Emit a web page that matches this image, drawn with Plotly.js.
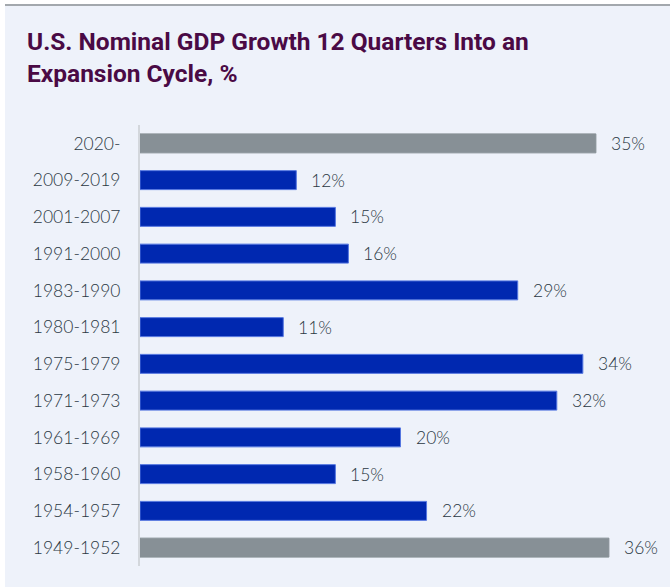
<!DOCTYPE html>
<html>
<head>
<meta charset="utf-8">
<script src="https://cdn.plot.ly/plotly-3.0.1.min.js"></script>
<style>
html,body{margin:0;padding:0;background:#ffffff;width:670px;height:587px;overflow:hidden;}
#card{position:absolute;left:5px;top:4px;width:665px;height:583px;border-top:2px solid #a3a8ad;box-sizing:border-box;background:#eef2fa;}
#chart{width:665px;height:581px;}
</style>
</head>
<body>
<div id="card"><div id="chart"></div></div>
<script>
const periods = ["2020-","2009-2019","2001-2007","1991-2000","1983-1990","1980-1981","1975-1979","1971-1973","1961-1969","1958-1960","1954-1957","1949-1952"];
const growth = [35,12,15,16,29,11,34,32,20,15,22,36];
const labels = ["35%","12%","15%","16%","29%","11%","34%","32%","20%","15%","22%","36%"];
const highlight = [true,false,false,false,false,false,false,false,false,false,false,true];

const BLUE = "#0028b0", GRAY = "#879096";
const colors = highlight.map(h => h ? GRAY : BLUE);
const edges = highlight.map(h => h ? GRAY : "#5577e0");
const LABEL_FONT = {family: "Lato, 'Open Sans', sans-serif", size: 17.5, weight: 300, color: "#2a3742"};

const trace = {
  type: "bar",
  orientation: "h",
  y: periods,
  x: growth,
  marker: {color: colors, line: {color: edges, width: 1}},
  hoverinfo: "none"
};

const annotations = periods.map((p, i) => ({
  x: growth[i], y: p, xref: "x", yref: "y",
  text: labels[i], showarrow: false, xanchor: "left", xshift: 13,
  font: LABEL_FONT
}));

const layout = {
  width: 665, height: 581,
  paper_bgcolor: "#eef2fa", plot_bgcolor: "#eef2fa",
  margin: {l: 135, r: 9, t: 119, b: 21},
  bargap: 0.484,
  showlegend: false,
  title: {
    text: "<b>U.S. Nominal GDP Growth 12 Quarters Into an<br>Expansion Cycle, %</b>",
    x: 22/665, xref: "container", xanchor: "left",
    y: 1 - 44/581, yref: "container", yanchor: "top",
    font: {family: "Roboto, sans-serif", size: 24.5, color: "#4a0a45"}
  },
  xaxis: {range: [0, 40], visible: false, fixedrange: true},
  yaxis: {
    autorange: "reversed", type: "category",
    showline: true, linecolor: "#d3d7dc", linewidth: 2,
    ticks: "outside", ticklen: 14, tickcolor: "rgba(0,0,0,0)",
    showgrid: false, zeroline: false,
    tickfont: LABEL_FONT
  },
  annotations: annotations
};

Plotly.newPlot("chart", [trace], layout, {displayModeBar: false, staticPlot: true});
</script>
</body>
</html>
